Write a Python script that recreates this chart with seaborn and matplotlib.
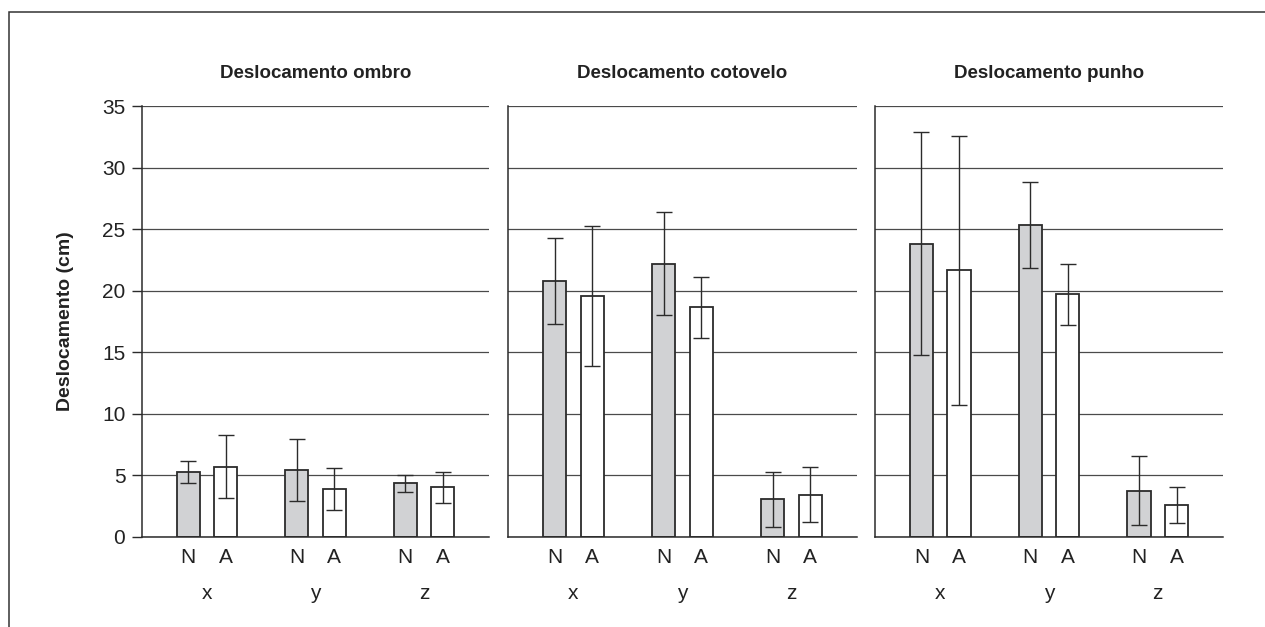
"""
Deslocamento do ombro, cotovelo e punho (x, y, z) - grupos N e A
"""
import numpy as np
import pandas as pd
import matplotlib
matplotlib.use("Agg")
import matplotlib.pyplot as plt
from matplotlib.patches import Rectangle
from matplotlib.ticker import FixedLocator
import seaborn as sns

# ── Dados (médias e desvios-padrão) ──────────────────────────────────────────
categorias = ["x", "y", "z"]
grupos = ["N", "A"]
titulos = ["Deslocamento ombro", "Deslocamento cotovelo", "Deslocamento punho"]

ombro_N = [5.3, 5.45, 4.35]
ombro_N_dp = [0.9, 2.5, 0.7]
ombro_A = [5.7, 3.9, 4.05]
ombro_A_dp = [2.55, 1.7, 1.25]

cotovelo_N = [20.8, 22.2, 3.05]
cotovelo_N_dp = [3.5, 4.2, 2.25]
cotovelo_A = [19.55, 18.65, 3.45]
cotovelo_A_dp = [5.7, 2.5, 2.2]

punho_N = [23.8, 25.35, 3.75]
punho_N_dp = [9.05, 3.5, 2.8]
punho_A = [21.65, 19.7, 2.6]
punho_A_dp = [10.95, 2.5, 1.5]

series = [
    (ombro_N, ombro_N_dp, ombro_A, ombro_A_dp),
    (cotovelo_N, cotovelo_N_dp, cotovelo_A, cotovelo_A_dp),
    (punho_N, punho_N_dp, punho_A, punho_A_dp),
]

sns.set_style("white")
plt.rcParams["font.family"] = ["Liberation Sans Narrow", "Liberation Sans", "DejaVu Sans"]

CINZA = "#d1d2d4"
ESCURO = "#2b2b2b"
GRADE = "#4a4a4a"

W, H = 1265, 627
fig = plt.figure(figsize=(W / 100, H / 100), dpi=100)

# moldura externa (só topo e esquerda aparecem no recorte)
fig.add_artist(Rectangle((9 / W, -0.2), 1.2, (H - 12) / H + 0.2,
                         transform=fig.transFigure, fill=False,
                         edgecolor="#333333", linewidth=1.1))

paineis_px = [(142, 347), (508, 349), (875, 348)]
base, altura = (H - 537) / H, 431 / H

for i, ((x0, largura), titulo, (mN, dN, mA, dA)) in enumerate(zip(paineis_px, titulos, series)):
    ax = fig.add_axes([x0 / W, base, largura / W, altura])
    df = pd.DataFrame({
        "eixo": categorias * 2,
        "grupo": ["N"] * 3 + ["A"] * 3,
        "valor": mN + mA,
    })
    dp = {("N", c): d for c, d in zip(categorias, dN)}
    dp.update({("A", c): d for c, d in zip(categorias, dA)})

    sns.barplot(data=df, x="eixo", y="valor", hue="grupo", hue_order=grupos,
                order=categorias, palette={"N": CINZA, "A": "white"},
                width=0.69, gap=0.377, errorbar=None, legend=False,
                edgecolor=ESCURO, linewidth=1.3, saturation=1, ax=ax, zorder=2)

    # barras de erro (média ± dp)
    centros = []
    for p in ax.patches:
        cx = p.get_x() + p.get_width() / 2
        h = p.get_height()
        cat = categorias[int(round(cx))]
        grp = "N" if cx < round(cx) else "A"
        centros.append(cx)
        ax.errorbar(cx, h, yerr=dp[(grp, cat)], fmt="none", ecolor=ESCURO,
                    elinewidth=1.0, capsize=5.5, capthick=1.0, zorder=3)

    ax.set_xlim(-0.6, 2.6)
    ax.set_ylim(0, 35)
    ax.set_yticks(np.arange(0, 36, 5))
    ax.yaxis.grid(True, color=GRADE, linewidth=0.9)
    ax.xaxis.grid(False)
    ax.set_axisbelow(True)

    for s in ["top", "right"]:
        ax.spines[s].set_visible(False)
    for s in ["left", "bottom"]:
        ax.spines[s].set_color(ESCURO)
        ax.spines[s].set_linewidth(1.1)

    # rótulos N / A (menores) e x / y / z (maiores)
    centros = sorted(centros)
    ax.xaxis.set_minor_locator(FixedLocator(centros))
    ax.set_xticks(range(len(categorias)))
    ax.set_xticklabels(categorias)
    ax.set_xticklabels([grupos[j % 2] for j in range(len(centros))], minor=True)
    ax.tick_params(axis="x", which="major", length=0, pad=34, labelsize=15, colors="#222222")
    ax.tick_params(axis="x", which="minor", length=0, pad=8, labelsize=15, colors="#222222")
    ax.set_xlabel("")

    if i == 0:
        ax.tick_params(axis="y", length=7, width=1.0, color=ESCURO, pad=5,
                       labelsize=15, labelcolor="#222222", left=True)
        ax.set_ylabel("Deslocamento (cm)", fontsize=14, fontweight="bold", color="#222222")
        ax.yaxis.set_label_coords(-0.195, 0.5)
    else:
        ax.tick_params(axis="y", length=0, labelleft=False)
        ax.set_ylabel("")

    ax.text(0.5, 1 + 33 / 431, titulo, transform=ax.transAxes, ha="center",
            va="center", fontsize=13.5, fontweight="bold", color="#222222")

plt.savefig("out.png", dpi=100)
plt.close()
